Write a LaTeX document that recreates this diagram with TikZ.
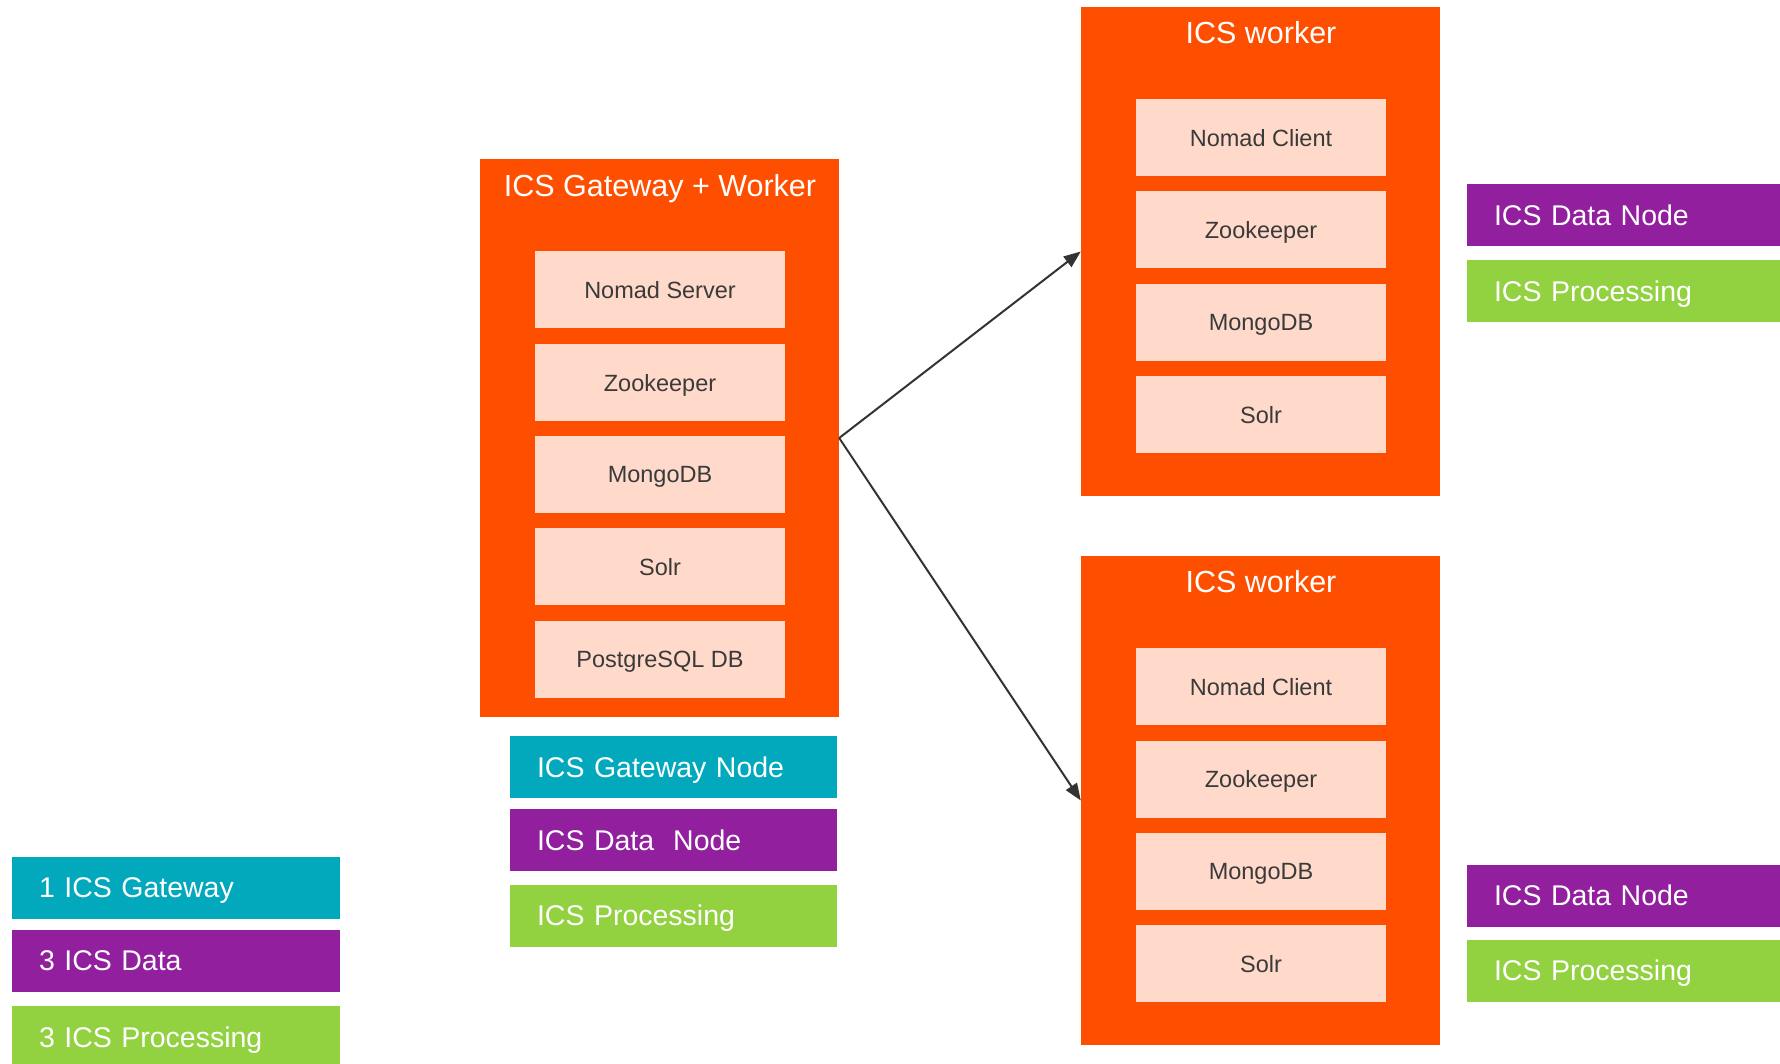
\documentclass[tikz,border=0pt]{standalone}
\usepackage{fontspec}
\setmainfont{Liberation Sans}
\usetikzlibrary{arrows.meta}
\definecolor{orng}{HTML}{FE4E00}
\definecolor{peach}{HTML}{FFDACA}
\definecolor{cteal}{HTML}{02A9BD}
\definecolor{cpurple}{HTML}{911F9E}
\definecolor{cgreen}{HTML}{92D13F}
\definecolor{darktext}{HTML}{3A3A3A}
\definecolor{arrowcol}{HTML}{333333}
\begin{document}
\begin{tikzpicture}[x=1pt,y=-1pt,
  outerbox/.style={fill=orng, inner sep=0pt, minimum width=359pt},
  title/.style={text=white, font=\fontsize{30.5}{36}\selectfont, text depth=0pt},
  inner/.style={fill=peach, inner sep=0pt, minimum width=250pt, minimum height=77pt,
                text=darktext, font=\fontsize{23.5}{28}\selectfont, text depth=0pt},
  lbl/.style={text=white, font=\fontsize{28.5}{34}\selectfont, inner ysep=0pt,
              inner xsep=27pt, minimum height=62pt, align=left, text depth=0pt},
  conn/.style={draw=arrowcol, line width=2pt, -{Triangle[length=17pt,width=13pt]}}
]
\useasboundingbox (0,0) rectangle (1780,1064);

% Gateway + worker
\node[outerbox, minimum height=558pt] (gw) at (659.5,438) {};
\node[title] (gwt) at (660,185) {ICS Gateway + Worker};
\node[inner] (gw1) at (660,290) {Nomad Server};
\node[inner] (gw2) at (660,382.5) {Zookeeper};
\node[inner] (gw3) at (660,474.5) {MongoDB};
\node[inner] (gw4) at (660,566.5) {Solr};
\node[inner] (gw5) at (660,659) {PostgreSQL DB};

% Worker 1
\node[outerbox, minimum height=489pt] (w1) at (1260.5,251.5) {};
\node[title] (w1t) at (1261,32) {ICS worker};
\node[inner] (w1a) at (1261,137.5) {Nomad Client};
\node[inner] (w1b) at (1261,230) {Zookeeper};
\node[inner] (w1c) at (1261,322.5) {MongoDB};
\node[inner] (w1d) at (1261,414.5) {Solr};

% Worker 2
\node[outerbox, minimum height=489pt] (w2) at (1260.5,800.5) {};
\node[title] (w2t) at (1261,581) {ICS worker};
\node[inner] (w2a) at (1261,686.5) {Nomad Client};
\node[inner] (w2b) at (1261,779) {Zookeeper};
\node[inner] (w2c) at (1261,871.5) {MongoDB};
\node[inner] (w2d) at (1261,963.5) {Solr};

% Connectors
\draw[conn] (gw.east) -- (w1.west);
\draw[conn] (gw.east) -- (w2.west);

% Middle labels
\node[lbl, fill=cteal, text width=273pt] (mg) at (673.5,767) {ICS Gateway Node};
\node[lbl, fill=cpurple, text width=273pt] (md) at (673.5,840) {ICS Data\ \ Node};
\node[lbl, fill=cgreen, text width=273pt] (mp) at (673.5,915.5) {ICS Processing};

% Right labels
\node[lbl, fill=cpurple, text width=259pt] (r1d) at (1623.5,215) {ICS Data Node};
\node[lbl, fill=cgreen, text width=259pt] (r1p) at (1623.5,291) {ICS Processing};
\node[lbl, fill=cpurple, text width=259pt] (r2d) at (1623.5,895.5) {ICS Data Node};
\node[lbl, fill=cgreen, text width=259pt] (r2p) at (1623.5,970.5) {ICS Processing};

% Legend
\node[lbl, fill=cteal, text width=274pt] (lg) at (176,888) {1 ICS Gateway};
\node[lbl, fill=cpurple, text width=274pt] (ld) at (176,961) {3 ICS Data};
\node[lbl, fill=cgreen, text width=274pt] (lp) at (176,1037) {3 ICS Processing};
\end{tikzpicture}
\end{document}
